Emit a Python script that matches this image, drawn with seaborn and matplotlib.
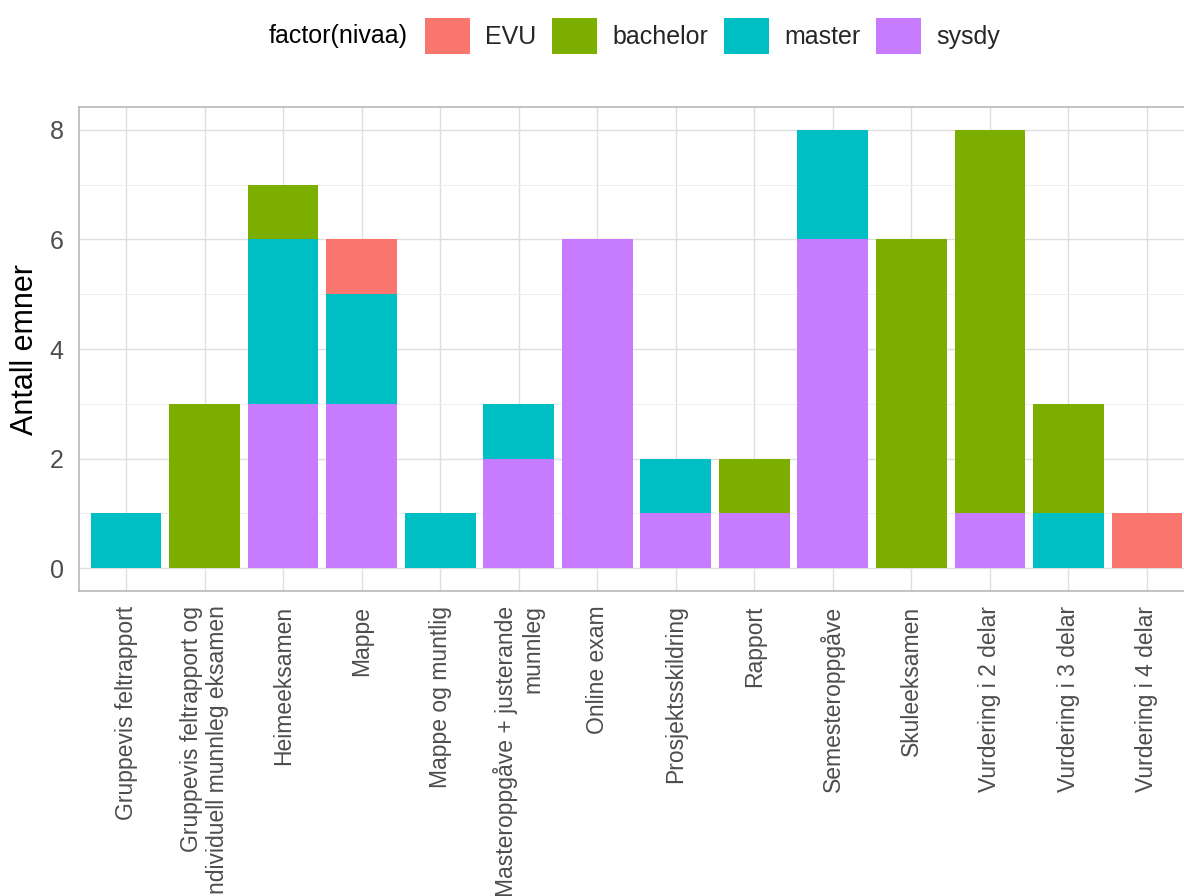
import matplotlib
matplotlib.use("Agg")
import matplotlib.pyplot as plt
import seaborn as sns
import pandas as pd
from matplotlib.patches import Patch
from matplotlib.ticker import MultipleLocator

# ---- data ----
categories = [
    "Gruppevis feltrapport",
    "Gruppevis feltrapport og\nindividuell munnleg eksamen",
    "Heimeeksamen",
    "Mappe",
    "Mappe og muntlig",
    "Masteroppgåve + justerande\nmunnleg",
    "Online exam",
    "Prosjektsskildring",
    "Rapport",
    "Semesteroppgåve",
    "Skuleeksamen",
    "Vurdering i 2 delar",
    "Vurdering i 3 delar",
    "Vurdering i 4 delar",
]
levels = ["EVU", "bachelor", "master", "sysdy"]
evu = [0, 0, 0, 1, 0, 0, 0, 0, 0, 0, 0, 0, 0, 1]
bachelor = [0, 3, 1, 0, 0, 0, 0, 0, 1, 0, 6, 7, 2, 0]
master = [1, 0, 3, 2, 1, 1, 0, 1, 0, 2, 0, 0, 1, 0]
sysdy = [0, 0, 3, 3, 0, 2, 6, 1, 1, 6, 0, 1, 0, 0]
colors = ["#F8766D", "#7CAE00", "#00BFC4", "#C77CFF"]
y_ticks = [0, 2, 4, 6, 8]

rows = []
for i, cat in enumerate(categories):
    for lev, vals in zip(levels, [evu, bachelor, master, sysdy]):
        rows.append({"vurdering": cat, "nivaa": lev, "antall": vals[i]})
df = pd.DataFrame(rows)
df["vurdering"] = pd.Categorical(df["vurdering"], categories=categories, ordered=True)

# ---- figure ----
sns.set_style("white")
plt.rcParams["font.family"] = ["Liberation Sans", "DejaVu Sans"]

W, H = 1184, 896
fig = plt.figure(figsize=(W / 100, H / 100), dpi=100)
ax = fig.add_axes([79 / W, 1 - 591 / H, 1115 / W, 484 / H])

sns.histplot(
    data=df, x="vurdering", weights="antall", hue="nivaa",
    hue_order=levels, palette=colors, multiple="stack",
    discrete=True, shrink=0.9, alpha=1, linewidth=0,
    legend=False, ax=ax,
)

ax.set_xlim(-0.6, len(categories) - 0.4)
ax.set_ylim(-0.42, 8.42)
ax.set_xticks(range(len(categories)))
ax.set_xticklabels(categories, rotation=90, ha="center", va="top",
                   multialignment="right")
ax.set_yticks(y_ticks)
ax.yaxis.set_minor_locator(MultipleLocator(1))

ax.set_axisbelow(True)
ax.grid(which="major", color="#DEDEDE", linewidth=1.0)
ax.grid(which="minor", axis="y", color="#EDEDED", linewidth=0.6)
for s in ax.spines.values():
    s.set_color("#B3B3B3")
    s.set_linewidth(1.1)

ax.tick_params(axis="both", which="major", length=6.0, width=0.8,
               color="#B3B3B3", labelcolor="#4D4D4D")
ax.tick_params(axis="x", which="major", labelsize=16.5, pad=4.5)
ax.tick_params(axis="y", which="major", labelsize=18, pad=5.0)
ax.tick_params(axis="y", which="minor", length=0)

ax.set_xlabel("")
ax.set_ylabel("Antall emner", fontsize=22, color="black")
ax.yaxis.label.set_va("center")
ax.yaxis.set_label_coords((25 - 79) / 1115, 0.5)

# legend (title on the left, keys in a row)
fig.text(269 / W, 1 - 36 / H, "factor(nivaa)", ha="left", va="center",
         fontsize=18, color="black")
handles = [Patch(facecolor=c, edgecolor="none") for c in colors]
fig.legend(handles, levels, loc="center left",
           bbox_to_anchor=(425 / W, 1 - 36 / H), ncol=4, frameon=False,
           fontsize=18, handlelength=1.8, handleheight=1.8,
           handletextpad=0.6, columnspacing=0.64, borderpad=0,
           borderaxespad=0)

fig.savefig("out.png", dpi=100)
